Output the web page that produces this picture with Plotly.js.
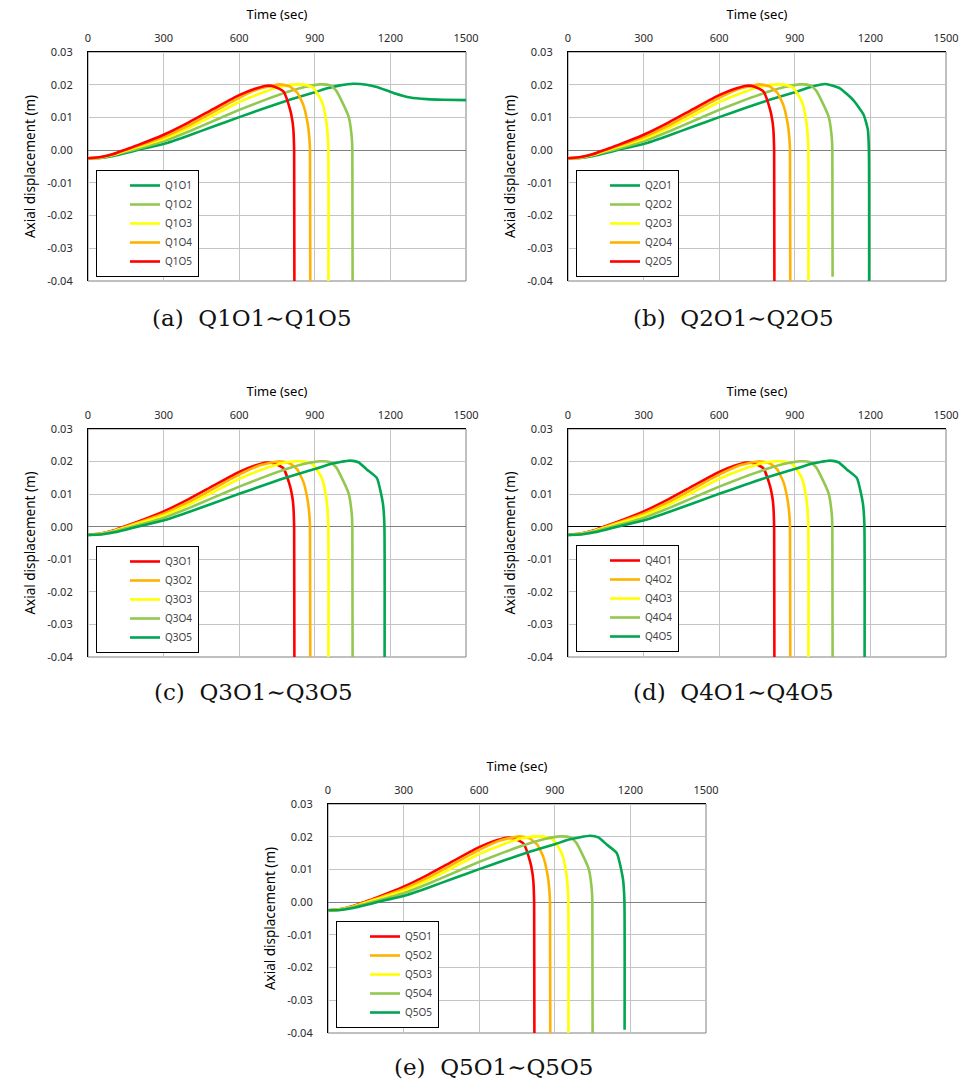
<!DOCTYPE html>
<html>
<head>
<meta charset="utf-8">
<script src="https://cdn.plot.ly/plotly-3.0.1.min.js"></script>
<style>
  html, body { margin: 0; padding: 0; background: #fff; }
  #chart { width: 970px; height: 1092px; }
</style>
</head>
<body>
<div id="chart"></div>
<script>
// ---------- tick labels ----------
const xTickVals = [0, 300, 600, 900, 1200, 1500];
const yTickVals = [-0.04, -0.03, -0.02, -0.01, 0, 0.01, 0.02, 0.03];
const yTickText = ['-0.04', '-0.03', '-0.02', '-0.01', '0.00', '0.01', '0.02', '0.03'];

// ---------- curve data (time in sec, axial displacement in m) ----------
// earliest failure (red)
const redTime = [0, 50, 100, 150, 200, 300, 400, 500, 600, 660, 709, 740, 775, 802, 812, 815, 818, 819];
const redDisp = [-0.0025, -0.0021, -0.0012, 0.0002, 0.0016, 0.0047, 0.0085, 0.0127, 0.0168, 0.0187, 0.0197, 0.0194, 0.0180, 0.0124, 0.0085, 0.0062, 0.0000, -0.0400];
// orange
const orangeTime = [0, 50, 100, 150, 200, 300, 400, 500, 600, 680, 760, 800, 830, 855, 872, 878, 881, 882];
const orangeDisp = [-0.0025, -0.0022, -0.0013, 0.0000, 0.0013, 0.0040, 0.0076, 0.0118, 0.0160, 0.0188, 0.0201, 0.0195, 0.0176, 0.0137, 0.0080, 0.0040, 0.0000, -0.0400];
// yellow
const yellowTime = [0, 50, 100, 150, 200, 300, 400, 500, 600, 700, 770, 828, 870, 894, 928, 946, 953, 954];
const yellowDisp = [-0.0025, -0.0022, -0.0014, -0.0002, 0.0010, 0.0034, 0.0068, 0.0107, 0.0147, 0.0178, 0.0195, 0.0201, 0.0198, 0.0190, 0.0149, 0.0085, 0.0020, -0.0400];
// light green
const lgTime = [0, 50, 100, 150, 200, 300, 400, 500, 600, 700, 800, 860, 921, 961, 985, 1007, 1034, 1046, 1049, 1050];
const lgDisp = [-0.0025, -0.0023, -0.0015, -0.0005, 0.0005, 0.0027, 0.0057, 0.0090, 0.0123, 0.0153, 0.0180, 0.0193, 0.0201, 0.0198, 0.0182, 0.0150, 0.0103, 0.0045, 0.0000, -0.0400];
const lgDispB = [-0.0025, -0.0023, -0.0015, -0.0005, 0.0005, 0.0027, 0.0057, 0.0090, 0.0123, 0.0153, 0.0180, 0.0193, 0.0201, 0.0198, 0.0182, 0.0150, 0.0103, 0.0045, 0.0000, -0.0387];
// dark green, panel (a): no failure
const dgATime = [0, 50, 100, 150, 200, 250, 300, 400, 500, 600, 700, 800, 900, 950, 1000, 1053, 1106, 1146, 1212, 1279, 1345, 1411, 1500];
const dgADisp = [-0.0025, -0.0024, -0.0018, -0.0009, 0.0001, 0.0010, 0.0019, 0.0045, 0.0073, 0.0101, 0.0128, 0.0154, 0.0177, 0.0189, 0.0198, 0.0203, 0.0200, 0.0193, 0.0175, 0.0161, 0.0156, 0.0154, 0.0153];
// dark green, panel (b)
const dgBTime = [0, 50, 100, 150, 200, 250, 300, 400, 500, 600, 700, 800, 900, 960, 1022, 1079, 1133, 1173, 1190, 1194, 1195];
const dgBDisp = [-0.0025, -0.0024, -0.0018, -0.0009, 0.0001, 0.0010, 0.0019, 0.0045, 0.0073, 0.0101, 0.0128, 0.0154, 0.0177, 0.0192, 0.0202, 0.0189, 0.0152, 0.0108, 0.0062, 0.0000, -0.0400];
// dark green, panels (c)(d)(e)
const dgCTime = [0, 50, 100, 150, 200, 250, 300, 400, 500, 600, 700, 800, 900, 960, 1040, 1073, 1106, 1146, 1170, 1176, 1177];
const dgCDisp = [-0.0025, -0.0024, -0.0018, -0.0009, 0.0001, 0.0010, 0.0019, 0.0045, 0.0073, 0.0101, 0.0128, 0.0154, 0.0177, 0.0192, 0.0203, 0.0198, 0.0176, 0.0150, 0.0073, 0.0010, -0.0400];
const dgEDisp = [-0.0025, -0.0024, -0.0018, -0.0009, 0.0001, 0.0010, 0.0019, 0.0045, 0.0073, 0.0101, 0.0128, 0.0154, 0.0177, 0.0192, 0.0203, 0.0198, 0.0176, 0.0150, 0.0073, 0.0010, -0.0390];

// ---------- series names ----------
const namesA = ['Q1O1', 'Q1O2', 'Q1O3', 'Q1O4', 'Q1O5'];
const namesB = ['Q2O1', 'Q2O2', 'Q2O3', 'Q2O4', 'Q2O5'];
const namesC = ['Q3O1', 'Q3O2', 'Q3O3', 'Q3O4', 'Q3O5'];
const namesD = ['Q4O1', 'Q4O2', 'Q4O3', 'Q4O4', 'Q4O5'];
const namesE = ['Q5O1', 'Q5O2', 'Q5O3', 'Q5O4', 'Q5O5'];
const captions = ['(a)  Q1O1∼Q1O5', '(b)  Q2O1∼Q2O5', '(c)  Q3O1∼Q3O5', '(d)  Q4O1∼Q4O5', '(e)  Q5O1∼Q5O5'];

const C_DG = '#00a651', C_LG = '#92c84f', C_Y = '#ffff00', C_O = '#ffb300', C_R = '#ff0000';

// panel descriptions: list of [name, time, disp, color] in legend order
const panels = [
  [[namesA[0], dgATime, dgADisp, C_DG], [namesA[1], lgTime, lgDisp, C_LG], [namesA[2], yellowTime, yellowDisp, C_Y], [namesA[3], orangeTime, orangeDisp, C_O], [namesA[4], redTime, redDisp, C_R]],
  [[namesB[0], dgBTime, dgBDisp, C_DG], [namesB[1], lgTime, lgDispB, C_LG], [namesB[2], yellowTime, yellowDisp, C_Y], [namesB[3], orangeTime, orangeDisp, C_O], [namesB[4], redTime, redDisp, C_R]],
  [[namesC[0], redTime, redDisp, C_R], [namesC[1], orangeTime, orangeDisp, C_O], [namesC[2], yellowTime, yellowDisp, C_Y], [namesC[3], lgTime, lgDisp, C_LG], [namesC[4], dgCTime, dgCDisp, C_DG]],
  [[namesD[0], redTime, redDisp, C_R], [namesD[1], orangeTime, orangeDisp, C_O], [namesD[2], yellowTime, yellowDisp, C_Y], [namesD[3], lgTime, lgDisp, C_LG], [namesD[4], dgCTime, dgCDisp, C_DG]],
  [[namesE[0], redTime, redDisp, C_R], [namesE[1], orangeTime, orangeDisp, C_O], [namesE[2], yellowTime, yellowDisp, C_Y], [namesE[3], lgTime, lgDisp, C_LG], [namesE[4], dgCTime, dgEDisp, C_DG]]
];

// ---------- layout geometry (pixels) ----------
const W = 970, H = 1092;
const boxes = [ // [left, right, top, bottom] of plot areas
  [88, 466, 52, 281],
  [568, 946, 52, 281],
  [88, 466, 429, 657],
  [568, 946, 429, 657],
  [328, 706, 804, 1033]
];
const legendPos = [ // [left, bottom] of legend boxes
  [96, 277], [576, 277], [96, 653], [576, 652], [336, 1028]
];
const captionPos = [ // [centerX, centerY]
  [252, 318], [733, 318], [253, 692], [733, 692], [493, 1067]
];

const traces = [];
const layout = {
  width: W, height: H,
  margin: {l: 0, r: 0, t: 0, b: 0},
  paper_bgcolor: '#fff', plot_bgcolor: '#fff',
  font: {family: 'Noto Sans, Arial, sans-serif', size: 11, color: '#222'},
  showlegend: true,
  shapes: [], annotations: []
};

panels.forEach((panel, i) => {
  const n = i + 1;
  const xa = 'x' + (n === 1 ? '' : n), ya = 'y' + (n === 1 ? '' : n);
  const xKey = 'xaxis' + (n === 1 ? '' : n), yKey = 'yaxis' + (n === 1 ? '' : n);
  const lgKey = 'legend' + (n === 1 ? '' : n);
  const b = boxes[i];
  panel.forEach(s => {
    traces.push({
      type: 'scatter', mode: 'lines', name: s[0], x: s[1], y: s[2],
      xaxis: xa, yaxis: ya, legend: lgKey,
      line: {color: s[3], width: 2.6, shape: 'spline', smoothing: 0.5},
      hoverinfo: 'skip'
    });
  });
  layout[xKey] = {
    domain: [b[0] / W, b[1] / W], anchor: ya, side: 'top',
    range: [0, 1500], tickvals: xTickVals, ticktext: xTickVals.map(String),
    showgrid: true, gridcolor: '#c4c4c4', gridwidth: 1, zeroline: false,
    showline: true, linecolor: '#000', linewidth: 1.2,
    ticks: 'outside', ticklen: 5, tickcolor: 'rgba(0,0,0,0)',
    tickfont: {size: 11, color: '#2a2a2a'},
    title: {text: 'Time (sec)', font: {size: 13, color: '#000'}, standoff: 6},
    fixedrange: true
  };
  layout[yKey] = {
    domain: [1 - b[3] / H, 1 - b[2] / H], anchor: xa,
    range: [-0.04, 0.03], tickvals: yTickVals, ticktext: yTickText,
    showgrid: true, gridcolor: '#c4c4c4', gridwidth: 1,
    zeroline: true, zerolinecolor: (i === 3 ? '#000' : '#808080'), zerolinewidth: 1,
    showline: true, linecolor: '#000', linewidth: 1.2,
    ticks: 'outside', ticklen: 12, tickcolor: 'rgba(0,0,0,0)',
    tickfont: {size: 11, color: '#2a2a2a'},
    title: {text: 'Axial displacement (m)', font: {size: 13.5, color: '#000'}, standoff: 8},
    fixedrange: true
  };
  // gray frame (right / bottom edges)
  layout.shapes.push({
    type: 'rect', xref: xa + ' domain', yref: ya + ' domain', x0: 0, x1: 1, y0: 0, y1: 1,
    line: {color: '#808080', width: 1}, layer: 'below'
  });
  const lp = legendPos[i];
  layout[lgKey] = {
    x: lp[0] / W, y: 1 - lp[1] / H, xanchor: 'left', yanchor: 'bottom',
    bgcolor: '#fff', bordercolor: '#000', borderwidth: 1,
    font: {size: 10, color: '#444', family: 'Noto Sans, Arial, sans-serif'},
    indentation: 28, itemwidth: 30, traceorder: 'normal'
  };
  const cp = captionPos[i];
  layout.annotations.push({
    text: captions[i], xref: 'paper', yref: 'paper', x: cp[0] / W, y: 1 - cp[1] / H,
    xanchor: 'center', yanchor: 'middle', showarrow: false,
    font: {family: 'DejaVu Serif, Liberation Serif, serif', size: 23, color: '#111'}
  });
});

Plotly.newPlot('chart', traces, layout, {displayModeBar: false});
</script>
</body>
</html>
